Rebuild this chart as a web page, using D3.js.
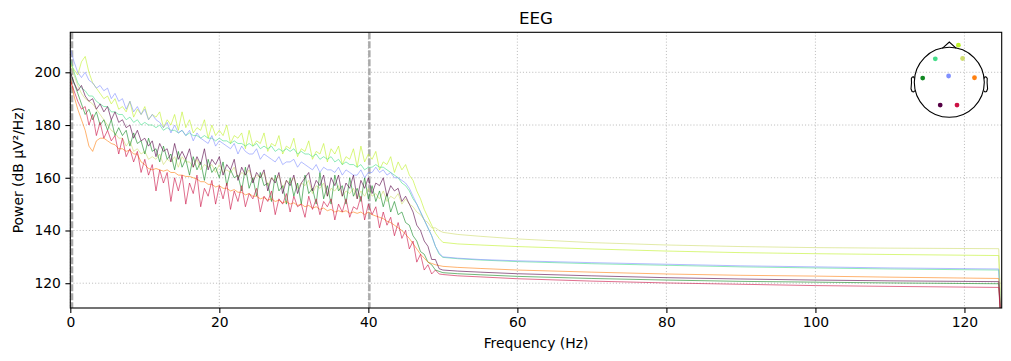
<!DOCTYPE html>
<html>
<head>
<meta charset="utf-8">
<script src="https://cdn.jsdelivr.net/npm/d3@7"></script>
<style>
  body { margin: 0; background: #fff; }
  text { font-family: "DejaVu Sans", sans-serif; fill: #000; }
</style>
</head>
<body>
<div id="content"></div>
<script>
// PSD of 8 EEG channels, 0-50 Hz at 0.5 Hz steps, then a sparse tail up to 125 Hz
let lowFreqs = d3.range(0, 50.01, 0.5);
let tailFreqs = [52, 55, 60, 70, 80, 90, 100, 110, 124.6, 125];

let channelColors = ['#bff22a', '#44dd88', '#cfdc6e', '#118822', '#8090ff', '#ff8010', '#550044', '#cc1144'];

// sensor positions in head units (x right, y towards the nose)
let sensorX = [0.26, -0.40, 0.38, -0.76, -0.02, 0.72, -0.26, 0.22];
let sensorY = [1.06, 0.67, 0.68, 0.12, 0.18, 0.13, -0.65, -0.65];

let limeLow = [203, 201, 199, 204, 206, 200, 196, 194, 192, 190,
  191, 188, 190, 186, 187, 185, 189, 183, 186, 184,
  187, 182, 184, 183, 185, 179, 182, 180, 184, 178,
  185, 179, 182, 177, 179, 178, 182, 175, 180, 176,
  178, 176, 180, 173, 176, 175, 177, 171, 178, 172,
  174, 173, 177, 170, 173, 172, 176, 169, 172, 171,
  175, 168, 171, 170, 174, 167, 170, 169, 173, 166,
  171, 169, 172, 165, 168, 167, 171, 164, 172, 166,
  169, 167, 170, 163, 166, 165, 168, 162, 166, 163,
  165, 161, 159, 155, 152, 148, 145, 142, 139, 137, 135.5];
let limeTail = [134.9, 134.5, 133.9, 133.0, 132.2, 131.6, 131.2, 130.9, 130.5, 100];

let cyanLow = [205, 200, 196, 194, 193, 191, 191, 189, 188, 187,
  187, 185, 185, 184, 184, 182, 183, 181, 182, 180,
  181, 180, 180, 179, 180, 178, 179, 178, 178, 177,
  178, 176, 177, 176, 176, 175, 176, 175, 175, 174,
  175, 174, 174, 173, 174, 173, 173, 172, 173, 172,
  173, 171, 172, 171, 172, 170, 171, 170, 171, 170,
  171, 169, 170, 169, 169, 168, 169, 167, 168, 167,
  168, 166, 167, 165, 166, 165, 165, 164, 165, 163,
  164, 164, 165, 164, 164, 163, 162, 161, 160, 158,
  157, 155, 152, 150, 147, 144, 141, 138, 134, 131, 129.8];
let cyanTail = [129.3, 128.8, 128.2, 127.4, 126.8, 126.2, 125.8, 125.4, 125.0, 100];

let khakiLow = [204, 199, 195, 192, 190, 189, 188, 186, 184, 182,
  180, 178, 177, 175, 175, 172, 174, 170, 171, 169,
  170, 167, 168, 167, 169, 165, 167, 166, 168, 164,
  168, 166, 166, 164, 167, 163, 165, 164, 165, 162,
  165, 162, 163, 162, 164, 160, 162, 161, 163, 159,
  161, 160, 162, 157, 160, 159, 161, 156, 159, 158,
  160, 156, 158, 157, 159, 154, 157, 156, 158, 153,
  156, 155, 157, 153, 155, 154, 156, 152, 155, 153,
  156, 153, 154, 152, 155, 151, 153, 152, 154, 150,
  152, 150, 149, 147, 146, 144, 143, 141, 141, 140, 139.3];
let khakiTail = [138.5, 137.8, 136.8, 135.4, 134.5, 133.9, 133.5, 133.3, 133.1, 100];

let greenLow = [200, 196, 192, 188, 184, 186, 182, 185, 180, 182,
  178, 182, 176, 179, 176, 178, 172, 177, 173, 174,
  169, 175, 170, 171, 166, 172, 167, 169, 163, 170,
  164, 167, 161, 168, 163, 166, 159, 167, 162, 164,
  160, 166, 157, 163, 160, 161, 155, 164, 156, 160,
  153, 162, 157, 158, 151, 161, 155, 157, 150, 160,
  153, 158, 150, 161, 154, 156, 150, 162, 152, 157,
  150, 161, 155, 157, 150, 160, 153, 156, 151, 160,
  152, 157, 151, 155, 149, 154, 147, 151, 146, 147,
  143, 142, 138, 136, 132, 131, 128, 127, 125, 124.5, 124];
let greenTail = [123.6, 123.2, 122.6, 121.8, 121.2, 120.7, 120.4, 120.1, 119.8, 100];

let blueLow = [209, 204, 200, 198, 200, 197, 196, 194, 195, 193,
  194, 190, 192, 189, 190, 186, 189, 185, 187, 184,
  186, 182, 184, 182, 181, 179, 181, 177, 180, 177,
  178, 176, 178, 174, 177, 175, 174, 173, 176, 172,
  174, 173, 172, 171, 173, 169, 172, 170, 169, 169,
  171, 167, 169, 168, 167, 166, 168, 165, 166, 166,
  167, 164, 166, 165, 164, 163, 165, 162, 164, 163,
  163, 162, 164, 161, 163, 162, 161, 161, 163, 160,
  162, 162, 164, 162, 163, 161, 162, 160, 160, 159,
  158, 156, 153, 150, 147, 144, 141, 138, 134, 131.5, 130];
let blueTail = [129.5, 129.0, 128.5, 127.8, 127.2, 126.6, 126.2, 125.8, 125.4, 100];

let orangeLow = [198, 191, 186, 182, 178, 172, 170, 174, 175, 175,
  174, 173, 172.5, 171, 171, 170, 170.5, 169, 169, 166,
  165, 163.5, 163, 163.5, 163, 162.5, 163, 162, 162, 161,
  161, 160.5, 160.5, 160, 159.5, 158.5, 158.5, 157.5, 157.5, 156.5,
  157, 156, 156, 155, 155.5, 154.5, 154.5, 153.5, 154, 153,
  153, 152, 152.5, 151.5, 152, 151, 151.5, 150.5, 151, 150,
  150.5, 149.5, 150, 149, 149.5, 148.5, 149, 148, 148.5, 147.5,
  148, 147, 147.5, 147, 147.5, 146.5, 147, 146.5, 147, 146,
  147, 146, 145.5, 145, 144.5, 143.5, 143, 142, 141, 140,
  138.5, 137, 135, 133, 131, 129.5, 128, 127.5, 127, 126.7, 126.4];
let orangeTail = [126.0, 125.6, 125.0, 124.2, 123.5, 123.0, 122.7, 122.3, 121.8, 100];

let purpleLow = [200, 196, 193, 195, 191, 189, 190, 186, 188, 185,
  187, 182, 185, 181, 182, 179, 180, 175, 178, 174,
  175, 172, 174, 168, 173, 170, 171, 166, 173, 167,
  170, 167, 171, 164, 168, 165, 171, 163, 167, 165,
  168, 161, 165, 163, 167, 159, 164, 161, 165, 158,
  162, 160, 163, 155, 160, 158, 162, 154, 159, 157,
  161, 154, 158, 160, 162, 155, 159, 157, 161, 153,
  160, 157, 161, 153, 158, 156, 161, 152, 159, 156,
  160, 154, 158, 157, 160, 153, 157, 155, 156, 151,
  153, 150, 147, 142, 140, 136, 134, 129, 129, 125.5, 125];
let purpleTail = [124.6, 124.2, 123.6, 122.8, 122.1, 121.6, 121.2, 120.9, 120.6, 100];

let crimsonLow = [197, 193, 189, 186, 187, 180, 184, 176, 181, 175,
  178, 174, 176, 169, 175, 168, 171, 166, 170, 162,
  167, 161, 165, 155, 163, 158, 162, 151, 160, 155,
  161, 150, 158, 154, 161, 149, 156, 153, 159, 150,
  157, 152, 158, 148, 155, 151, 157, 149, 154, 152,
  156, 147, 153, 151, 155, 146, 152, 150, 154, 147,
  153, 149, 150, 145, 153, 148, 152, 146, 151, 149,
  152, 144, 150, 147, 152, 145, 149, 148, 153, 144,
  150, 146, 149, 141, 147, 142, 145, 138, 143, 137,
  140, 133, 136, 128, 131, 125, 127, 123.5, 125, 123.5, 123.3];
let crimsonTail = [122.8, 122.4, 121.7, 120.8, 120.1, 119.6, 119.1, 118.8, 118.4, 100];

let xTicks = [0, 20, 40, 60, 80, 100, 120];
let yTicks = [120, 140, 160, 180, 200];
let filterFreqs = [0.1, 40];

// head outline template (head units, radius 1)
let noseX = [-0.2, 0, 0.2];
let noseY = [0.97, 1.15, 0.97];
let earX = [0.994, 1.02, 1.036, 1.06, 1.084, 1.08, 1.094, 1.064, 1.02, 0.978];
let earY = [0.111, 0.155, 0.157, 0.149, 0.111, -0.011, -0.186, -0.263, -0.277, -0.240];

let lows = [limeLow, cyanLow, khakiLow, greenLow, blueLow, orangeLow, purpleLow, crimsonLow];
let tails = [limeTail, cyanTail, khakiTail, greenTail, blueTail, orangeTail, purpleTail, crimsonTail];

let width = 1011;
let height = 361;
let margin = {left: 70.3, right: 9.3, top: 32.3, bottom: 53};

let svg = d3.select("#content").append("svg")
  .attr("width", width)
  .attr("height", height);

let x = d3.scaleLinear().domain([0, 125]).range([margin.left, width - margin.right]);
let y = d3.scaleLinear().domain([110.6, 215.17]).range([height - margin.bottom, margin.top]);

svg.append("clipPath").attr("id", "plotClip")
  .append("rect")
  .attr("x", margin.left).attr("y", margin.top)
  .attr("width", x(125) - x(0)).attr("height", y(110.6) - y(215.17));

// grid
let grid = svg.append("g");
grid.selectAll(".vgrid").data(xTicks).enter().append("line")
  .attr("x1", d => x(d)).attr("x2", d => x(d))
  .attr("y1", margin.top).attr("y2", height - margin.bottom);
grid.selectAll(".hgrid").data(yTicks).enter().append("line")
  .attr("x1", margin.left).attr("x2", width - margin.right)
  .attr("y1", d => y(d)).attr("y2", d => y(d));
grid.selectAll("line")
  .style("stroke", "#b0b0b0")
  .style("stroke-width", 0.8)
  .style("stroke-dasharray", "1.1,2");

// filter cutoffs
svg.append("g").attr("clip-path", "url(#plotClip)")
  .selectAll("line").data(filterFreqs).enter().append("line")
  .attr("x1", d => x(d) + 1).attr("x2", d => x(d) + 1)
  .attr("y1", margin.top).attr("y2", height - margin.bottom)
  .style("stroke", "#aaaaaa")
  .style("stroke-width", 2.5)
  .style("stroke-dasharray", "7,2");

// psd lines
let line = d3.line().x(d => x(d[0])).y(d => y(d[1]));
let series = lows.map(function(low, i) {
  let pts = lowFreqs.map((f, k) => [f, low[k]]);
  return pts.concat(tailFreqs.map((f, k) => [f, tails[i][k]]));
});

svg.append("g").attr("clip-path", "url(#plotClip)")
  .selectAll("path").data(series).enter().append("path")
  .attr("d", line)
  .style("fill", "none")
  .style("stroke", (d, i) => channelColors[i])
  .style("stroke-width", 0.75)
  .style("stroke-opacity", 0.8)
  .style("stroke-linejoin", "round");

// axes
let xAxis = svg.append("g")
  .attr("transform", `translate(0,${height - margin.bottom})`)
  .call(d3.axisBottom(x).tickValues(xTicks).tickSize(4.9).tickPadding(4.5));
let yAxis = svg.append("g")
  .attr("transform", `translate(${margin.left},0)`)
  .call(d3.axisLeft(y).tickValues(yTicks).tickSize(4.9).tickPadding(4.5));
[xAxis, yAxis].forEach(function(a) {
  a.select(".domain").remove();
  a.selectAll("text").style("font-size", "13.9px").style("font-family", "DejaVu Sans");
  a.selectAll("line").style("stroke-width", 1.1);
});

svg.append("rect")
  .attr("x", margin.left).attr("y", margin.top)
  .attr("width", x(125) - x(0)).attr("height", y(110.6) - y(215.17))
  .style("fill", "none").style("stroke", "#000").style("stroke-width", 1.1);

// labels
svg.append("text")
  .attr("x", (x(0) + x(125)) / 2).attr("y", 24)
  .attr("text-anchor", "middle")
  .style("font-size", "16.7px")
  .text("EEG");
svg.append("text")
  .attr("x", (x(0) + x(125)) / 2).attr("y", 348)
  .attr("text-anchor", "middle")
  .style("font-size", "13.9px")
  .text("Frequency (Hz)");
svg.append("text")
  .attr("transform", `translate(22.7,${(y(110.6) + y(215.17)) / 2}) rotate(-90)`)
  .attr("text-anchor", "middle")
  .style("font-size", "13.9px")
  .text("Power (dB µV²/Hz)");

// sensor inset
let headCx = 949.3, headCy = 82.3, headR = 35;
let hx = d3.scaleLinear().domain([-1, 1]).range([headCx - headR, headCx + headR]);
let hy = d3.scaleLinear().domain([-1, 1]).range([headCy + headR, headCy - headR]);
let head = svg.append("g");
let outline = d3.line().x(d => hx(d[0])).y(d => hy(d[1]));

head.append("circle")
  .attr("cx", hx(0)).attr("cy", hy(0)).attr("r", hx(1) - hx(0))
  .style("fill", "none");
head.append("path").attr("d", outline(noseX.map((v, i) => [v, noseY[i]])));
head.append("path").attr("d", outline(earX.map((v, i) => [v, earY[i]])));
head.append("path").attr("d", outline(earX.map((v, i) => [-v, earY[i]])));
head.selectAll("circle, path")
  .style("fill", "none")
  .style("stroke", "#000")
  .style("stroke-width", 1.1);

head.selectAll(".sensor").data(sensorX).enter().append("circle")
  .attr("class", "sensor")
  .attr("cx", d => hx(d))
  .attr("cy", (d, i) => hy(sensorY[i]))
  .attr("r", 2.4)
  .style("fill", (d, i) => channelColors[i])
  .style("stroke", "none");
</script>
</body>
</html>
